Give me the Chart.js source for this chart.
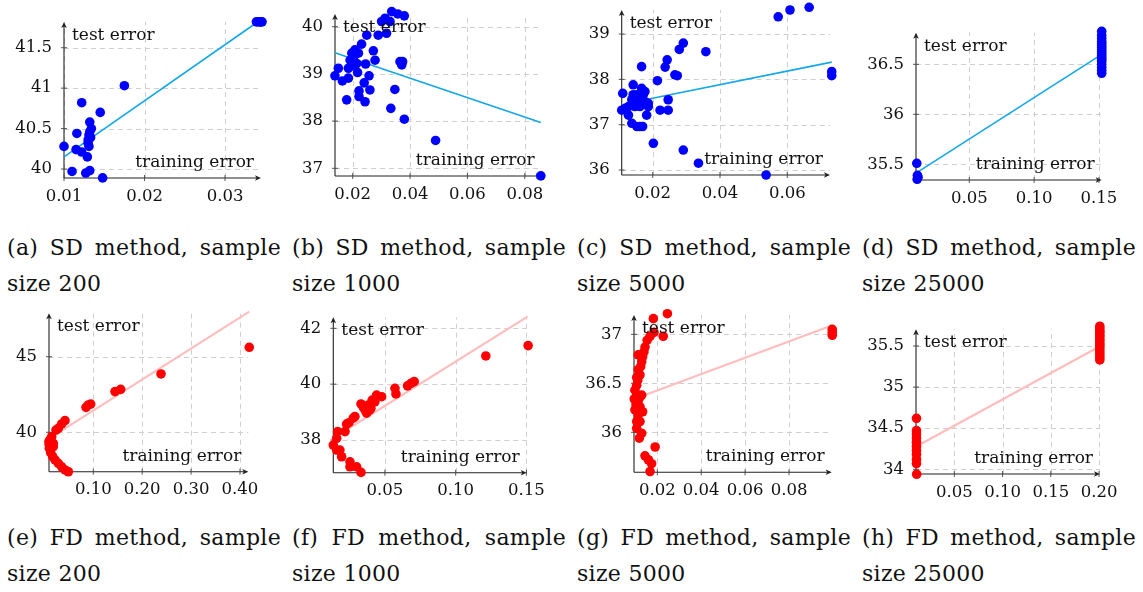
<!DOCTYPE html>
<html><head><meta charset="utf-8">
<script src="https://cdn.jsdelivr.net/npm/chart.js@4.4.1/dist/chart.umd.min.js"></script>
<style>
html,body{margin:0;padding:0;background:#fff;}
#page{position:relative;width:1143px;height:592px;overflow:hidden;background:#fff;}
canvas{position:absolute;}
.cap{position:absolute;width:274px;font-family:"DejaVu Serif",serif;font-size:22px;line-height:36px;letter-spacing:0.3px;color:#111;white-space:nowrap;}
.cap .l1{text-align:justify;text-align-last:justify;white-space:normal;}
</style></head><body><div id="page"></div>
<script>
// ---------- data ----------
const yAxisTitle = 'test error';
const xAxisTitle = 'training error';

// (a) SD, 200
const aX = [0.0100,0.0110,0.0122,0.0116,0.0115,0.0122,0.0129,0.0127,0.0132,0.0132,0.0134,0.0131,0.0130,0.0131,0.0132,0.0130,0.0133,0.0145,0.0148,0.0175,0.0339,0.0342,0.0344,0.0346];
const aY = [40.28,39.97,40.82,40.44,40.24,40.21,40.15,39.95,39.98,40.58,40.50,40.42,40.36,40.28,40.46,40.32,40.39,40.70,39.89,41.03,41.82,41.82,41.82,41.82];
const aFitX = [0.0100,0.0340];
const aFitY = [40.15,41.815];
const aXTicks = [0.01,0.02,0.03], aXLabels = ['0.01','0.02','0.03'];
const aYTicks = [40,40.5,41,41.5], aYLabels = ['40','40.5','41','41.5'];

// (b) SD, 1000
const bX = [0.0138,0.0150,0.0164,0.0179,0.0185,0.0185,0.0191,0.0197,0.0208,0.0214,0.0220,0.0217,0.0222,0.0222,0.0231,0.0243,0.0240,0.0245,0.0249,0.0257,0.0260,0.0272,0.0278,0.0289,0.0301,0.0313,0.0318,0.0330,0.0333,0.0336,0.0347,0.0357,0.0365,0.0371,0.0374,0.0380,0.0380,0.0489,0.0856,0.0202,0.0197];
const bY = [38.96,39.12,38.85,38.45,38.91,39.12,39.29,39.44,39.51,39.22,39.44,39.03,38.64,38.52,39.63,38.41,38.81,39.21,39.82,38.96,38.66,39.49,39.29,39.82,40.11,40.18,39.86,40.11,38.27,40.32,38.67,40.27,39.26,39.19,39.26,40.23,38.04,37.59,36.84,39.33,39.17];
const bFitX = [0.0138,0.0856];
const bFitY = [39.45,37.97];
const bXTicks = [0.02,0.04,0.06,0.08], bXLabels = ['0.02','0.04','0.06','0.08'];
const bYTicks = [37,38,39,40], bYLabels = ['37','38','39','40'];

// (c) SD, 5000
const cX = [0.0108,0.0111,0.0118,0.0128,0.0128,0.0138,0.0142,0.0142,0.0147,0.0153,0.0157,0.0162,0.0167,0.0167,0.0170,0.0172,0.0177,0.0182,0.0187,0.0187,0.0202,0.0214,0.0222,0.0237,0.0243,0.0246,0.0246,0.0266,0.0273,0.0279,0.0291,0.0291,0.0336,0.0358,0.0537,0.0573,0.0608,0.0665,0.0732,0.0732,0.0138,0.0153,0.0162,0.0177];
const cY = [37.32,37.69,37.36,37.40,37.21,37.03,37.88,37.66,37.40,36.96,37.55,36.96,38.28,37.80,36.96,37.66,37.51,37.21,37.47,37.40,36.59,37.97,37.32,38.27,38.43,37.55,37.32,38.10,38.08,38.66,38.80,36.44,36.15,38.61,35.89,39.38,39.53,39.59,38.17,38.08,37.55,37.66,37.40,37.73];
const cFitX = [0.0185,0.0732];
const cFitY = [37.56,38.38];
const cXTicks = [0.02,0.04,0.06], cXLabels = ['0.02','0.04','0.06'];
const cYTicks = [36,37,38,39], cYLabels = ['36','37','38','39'];

// (d) SD, 25000
const dX = [0.0095,0.0100,0.0098,0.0105,0.1521,0.1521,0.1521,0.1521,0.1521,0.1521,0.1521,0.1521,0.1521,0.1521,0.1521,0.1521,0.1521,0.1521,0.1521,0.1521,0.1521,0.1521];
const dY = [35.51,35.39,35.35,35.37,36.83,36.79,36.76,36.73,36.71,36.69,36.67,36.65,36.63,36.61,36.59,36.57,36.55,36.53,36.50,36.47,36.44,36.41];
const dFitX = [0.0092,0.1521];
const dFitY = [35.415,36.60];
const dXTicks = [0.05,0.10,0.15], dXLabels = ['0.05','0.10','0.15'];
const dYTicks = [35.5,36,36.5], dYLabels = ['35.5','36','36.5'];

// (e) FD, 200
const eX = [0.0421,0.0354,0.0284,0.0237,0.0149,0.0115,0.0095,0.0101,0.0182,0.0128,0.0170,0.0217,0.0284,0.0354,0.0421,0.0489,0.0851,0.0898,0.0947,0.1444,0.1560,0.2385,0.4190,0.0095,0.0182];
const eY = [40.77,40.55,40.26,40.15,39.71,39.49,39.23,38.94,39.05,38.65,38.39,38.17,37.95,37.72,37.51,37.39,41.65,41.81,41.87,42.69,42.84,43.86,45.62,39.40,39.27];
const eFitX = [0.0150,0.4190];
const eFitY = [39.70,47.98];
const eXTicks = [0.1,0.2,0.3,0.4], eXLabels = ['0.10','0.20','0.30','0.40'];
const eYTicks = [40,45], eYLabels = ['40','45'];

// (f) FD, 1000
const fX = [0.0135,0.0159,0.0166,0.0159,0.0182,0.0194,0.0218,0.0229,0.0246,0.0253,0.0253,0.0276,0.0288,0.0300,0.0331,0.0331,0.0359,0.0371,0.0382,0.0401,0.0410,0.0429,0.0441,0.0477,0.0571,0.0578,0.0660,0.0684,0.0707,0.1213,0.1512,0.0347,0.0394];
const fY = [37.82,38.06,38.30,37.64,37.64,37.40,38.30,38.57,38.62,37.22,37.04,38.78,38.84,37.04,36.84,39.29,39.08,38.96,39.25,39.14,39.43,39.37,39.61,39.55,39.85,39.65,39.94,40.03,40.09,41.01,41.38,39.17,39.08];
const fFitX = [0.0170,0.1508];
const fFitY = [38.18,42.42];
const fXTicks = [0.05,0.10,0.15], fXLabels = ['0.05','0.10','0.15'];
const fYTicks = [38,40,42], fYLabels = ['38','40','42'];

// (g) FD, 5000
const gX = [0.0182,0.0246,0.0227,0.0185,0.0167,0.0154,0.0144,0.0139,0.0133,0.0129,0.0124,0.0113,0.0121,0.0111,0.0106,0.0098,0.0095,0.0106,0.0121,0.0129,0.0103,0.0121,0.0133,0.0113,0.0121,0.0106,0.0129,0.0118,0.0190,0.0144,0.0159,0.0174,0.0167,0.0997,0.0997,0.0997,0.0113,0.0106,0.0098,0.0113,0.0106];
const gY = [37.16,37.21,36.98,37.02,36.98,36.94,36.87,36.82,36.77,36.72,36.67,36.64,36.585,36.53,36.48,36.43,36.34,36.38,36.36,36.38,36.28,36.26,36.21,36.18,36.11,36.04,35.99,35.94,35.85,35.76,35.72,35.68,35.60,37.05,36.99,37.02,36.79,36.56,36.23,36.32,36.11];
const gFitX = [0.0144,0.0995];
const gFitY = [36.38,37.09];
const gXTicks = [0.02,0.04,0.06,0.08], gXLabels = ['0.02','0.04','0.06','0.08'];
const gYTicks = [36,36.5,37], gYLabels = ['36','36.5','37'];

// (h) FD, 25000
const hX = [0.0108,0.0108,0.0108,0.0108,0.0108,0.0108,0.0108,0.0108,0.0108,0.0108,0.0110,0.2008,0.2008,0.2008,0.2008,0.2008,0.2008,0.2008,0.2008,0.2008,0.2008,0.2008,0.2008,0.2008,0.2008,0.2008,0.2008];
const hY = [34.62,34.47,34.43,34.38,34.33,34.28,34.23,34.18,34.12,34.07,33.94,35.74,35.71,35.68,35.66,35.63,35.61,35.58,35.56,35.53,35.51,35.48,35.45,35.42,35.39,35.36,35.33];
const hFitX = [0.0110,0.2000];
const hFitY = [34.28,35.49];
const hXTicks = [0.05,0.10,0.15,0.20], hXLabels = ['0.05','0.10','0.15','0.20'];
const hYTicks = [34,34.5,35,35.5], hYLabels = ['34','34.5','35','35.5'];

const captions = [
  ['(a) SD method, sample','size 200'], ['(b) SD method, sample','size 1000'],
  ['(c) SD method, sample','size 5000'], ['(d) SD method, sample','size 25000'],
  ['(e) FD method, sample','size 200'], ['(f) FD method, sample','size 1000'],
  ['(g) FD method, sample','size 5000'], ['(h) FD method, sample','size 25000']
];

// ---------- layout / style ----------
const SD = {dot:'#0000ff', fit:'#12a7e8', fitW:1.6};
const FD = {dot:'#ff0000', fit:'#ffbdbd', fitW:2.2};
const panels = [
 {xs:aX,ys:aY,fx:aFitX,fy:aFitY,xt:aXTicks,xl:aXLabels,yt:aYTicks,yl:aYLabels,st:SD,x0:64,x1:261,y0:22,y1:178,xmin:0.01,xmax:0.03447,ymin:39.889,ymax:41.818},
 {xs:bX,ys:bY,fx:bFitX,fy:bFitY,xt:bXTicks,xl:bXLabels,yt:bYTicks,yl:bYLabels,st:SD,x0:335,x1:541.7,y0:14,y1:176,xmin:0.01383,xmax:0.0859,ymin:36.837,ymax:40.269},
 {xs:cX,ys:cY,fx:cFitX,fy:cFitY,xt:cXTicks,xl:cXLabels,yt:cYTicks,yl:cYLabels,st:SD,x0:621.7,x1:830,y0:10,y1:175,xmin:0.01079,xmax:0.07269,ymin:35.89,ymax:39.53},
 {xs:dX,ys:dY,fx:dFitX,fy:dFitY,xt:dXTicks,xl:dXLabels,yt:dYTicks,yl:dYLabels,st:SD,x0:916,x1:1101.7,y0:32.7,y1:180,xmin:0.0089,xmax:0.1521,ymin:35.343,ymax:36.816},
 {xs:eX,ys:eY,fx:eFitX,fy:eFitY,xt:eXTicks,xl:eXLabels,yt:eYTicks,yl:eYLabels,st:FD,x0:49,x1:248.3,y0:313.3,y1:471.7,xmin:0.00941,xmax:0.417,ymin:37.394,ymax:47.87},
 {xs:fX,ys:fY,fx:fFitX,fy:fFitY,xt:fXTicks,xl:fXLabels,yt:fYTicks,yl:fYLabels,st:FD,x0:333.3,x1:526.7,y0:317.3,y1:472.7,xmin:0.01352,xmax:0.1502,ymin:36.829,ymax:42.394},
 {xs:gX,ys:gY,fx:gFitX,fy:gFitY,xt:gXTicks,xl:gXLabels,yt:gYTicks,yl:gYLabels,st:FD,x0:634,x1:831.7,y0:315,y1:472.3,xmin:0.00938,xmax:0.09945,ymin:35.592,ymax:37.197},
 {xs:hX,ys:hY,fx:hFitX,fy:hFitY,xt:hXTicks,xl:hXLabels,yt:hYTicks,yl:hYLabels,st:FD,x0:916,x1:1100,y0:329.3,y1:474,xmin:0.0103,xmax:0.201,ymin:33.943,ymax:35.703}
];
const capPos = [[7,230],[292,230],[577,230],[862,230],[7,520],[292,520],[577,520],[862,520]];

const page = document.getElementById('page');
captions.forEach((c,i)=>{
  const d = document.createElement('div');
  d.className = 'cap';
  d.style.left = capPos[i][0]+'px'; d.style.top = capPos[i][1]+'px';
  const l1 = document.createElement('div'); l1.className='l1'; l1.textContent = c[0];
  const l2 = document.createElement('div'); l2.textContent = c[1];
  d.appendChild(l1); d.appendChild(l2);
  page.appendChild(d);
});

function seg(ctx,x1,y1,x2,y2){ctx.beginPath();ctx.moveTo(x1,y1);ctx.lineTo(x2,y2);ctx.stroke();}

function decor(p){
  return {
    id:'decor',
    beforeDatasetsDraw(chart){
      const {ctx, chartArea:ca, scales:{x,y}} = chart;
      ctx.save();
      ctx.lineWidth = 1; ctx.strokeStyle = '#cfcfcf'; ctx.setLineDash([5,4]);
      p.xt.forEach(v=>{const px = Math.round(x.getPixelForValue(v))+0.5; seg(ctx,px,ca.bottom,px,ca.top);});
      p.yt.forEach(v=>{const py = Math.round(y.getPixelForValue(v))+0.5; seg(ctx,ca.left,py,ca.right,py);});
      ctx.setLineDash([]);
      ctx.strokeStyle = '#222'; ctx.fillStyle = '#222'; ctx.lineWidth = 1.1;
      seg(ctx, ca.left, ca.bottom, ca.left, ca.top+2);
      seg(ctx, ca.left, ca.bottom, ca.right-2, ca.bottom);
      ctx.beginPath();
      ctx.moveTo(ca.left, ca.top); ctx.lineTo(ca.left-2.8, ca.top+6); ctx.lineTo(ca.left, ca.top+4.5); ctx.lineTo(ca.left+2.8, ca.top+6); ctx.closePath(); ctx.fill();
      ctx.beginPath();
      ctx.moveTo(ca.right, ca.bottom); ctx.lineTo(ca.right-6, ca.bottom-2.8); ctx.lineTo(ca.right-4.5, ca.bottom); ctx.lineTo(ca.right-6, ca.bottom+2.8); ctx.closePath(); ctx.fill();
      ctx.lineWidth = 0.9; ctx.strokeStyle = '#444';
      p.xt.forEach(v=>{const px = x.getPixelForValue(v); seg(ctx,px,ca.bottom-3,px,ca.bottom+3);});
      p.yt.forEach(v=>{const py = y.getPixelForValue(v); seg(ctx,ca.left-3,py,ca.left+3,py);});
      ctx.restore();
    },
    afterDatasetsDraw(chart){
      const {ctx, chartArea:ca} = chart;
      ctx.save();
      ctx.font = '17px "DejaVu Serif"'; ctx.fillStyle = '#111'; ctx.textBaseline = 'alphabetic';
      ctx.textAlign = 'left'; ctx.fillText(yAxisTitle, ca.left+8, ca.top+18);
      ctx.textAlign = 'right'; ctx.fillText(xAxisTitle, ca.right-7, ca.bottom-11);
      ctx.restore();
    }
  };
}

const ML=70, MR=40, MT=40, MB=45;
const tickFont = {family:'"DejaVu Serif"', size:16.5};
panels.forEach(p=>{
  const left = Math.floor(p.x0)-ML, top = Math.floor(p.y0)-MT;
  const W = Math.ceil(p.x1)+MR-left, H = Math.ceil(p.y1)+MB-top;
  const cv = document.createElement('canvas');
  cv.width = W; cv.height = H;
  cv.style.left = left+'px'; cv.style.top = top+'px';
  cv.style.width = W+'px'; cv.style.height = H+'px';
  page.appendChild(cv);
  const yw = p.x0-left, xh = (top+H)-p.y1;
  new Chart(cv, {
    type:'scatter',
    data:{datasets:[
      {data:p.xs.map((x,i)=>({x:x,y:p.ys[i]})), showLine:false, pointRadius:4.8, pointBackgroundColor:p.st.dot, pointBorderColor:p.st.dot, pointBorderWidth:0, clip:false},
      {data:p.fx.map((x,i)=>({x:x,y:p.fy[i]})), showLine:true, borderColor:p.st.fit, borderWidth:p.st.fitW, pointRadius:0, fill:false, clip:false}
    ]},
    options:{
      responsive:false, animation:false, events:[],
      layout:{padding:{left:0, top:p.y0-top, right:left+W-p.x1, bottom:0}},
      plugins:{legend:{display:false}, tooltip:{enabled:false}},
      scales:{
        x:{type:'linear', min:p.xmin, max:p.xmax,
           grid:{display:false, drawTicks:false}, border:{display:false},
           afterBuildTicks:s=>{s.ticks = p.xt.map(v=>({value:v}));},
           ticks:{autoSkip:false, maxRotation:0, minRotation:0, padding:8.5, color:'#111', font:tickFont, callback:(v,i)=>p.xl[i]},
           afterFit:s=>{s.height = xh;}},
        y:{type:'linear', min:p.ymin, max:p.ymax,
           grid:{display:false, drawTicks:false}, border:{display:false},
           afterBuildTicks:s=>{s.ticks = p.yt.map(v=>({value:v}));},
           ticks:{autoSkip:false, padding:12, color:'#111', font:tickFont, callback:(v,i)=>p.yl[i]},
           afterFit:s=>{s.width = yw;}}
      }
    },
    plugins:[decor(p)]
  });
});
</script>
</body></html>
